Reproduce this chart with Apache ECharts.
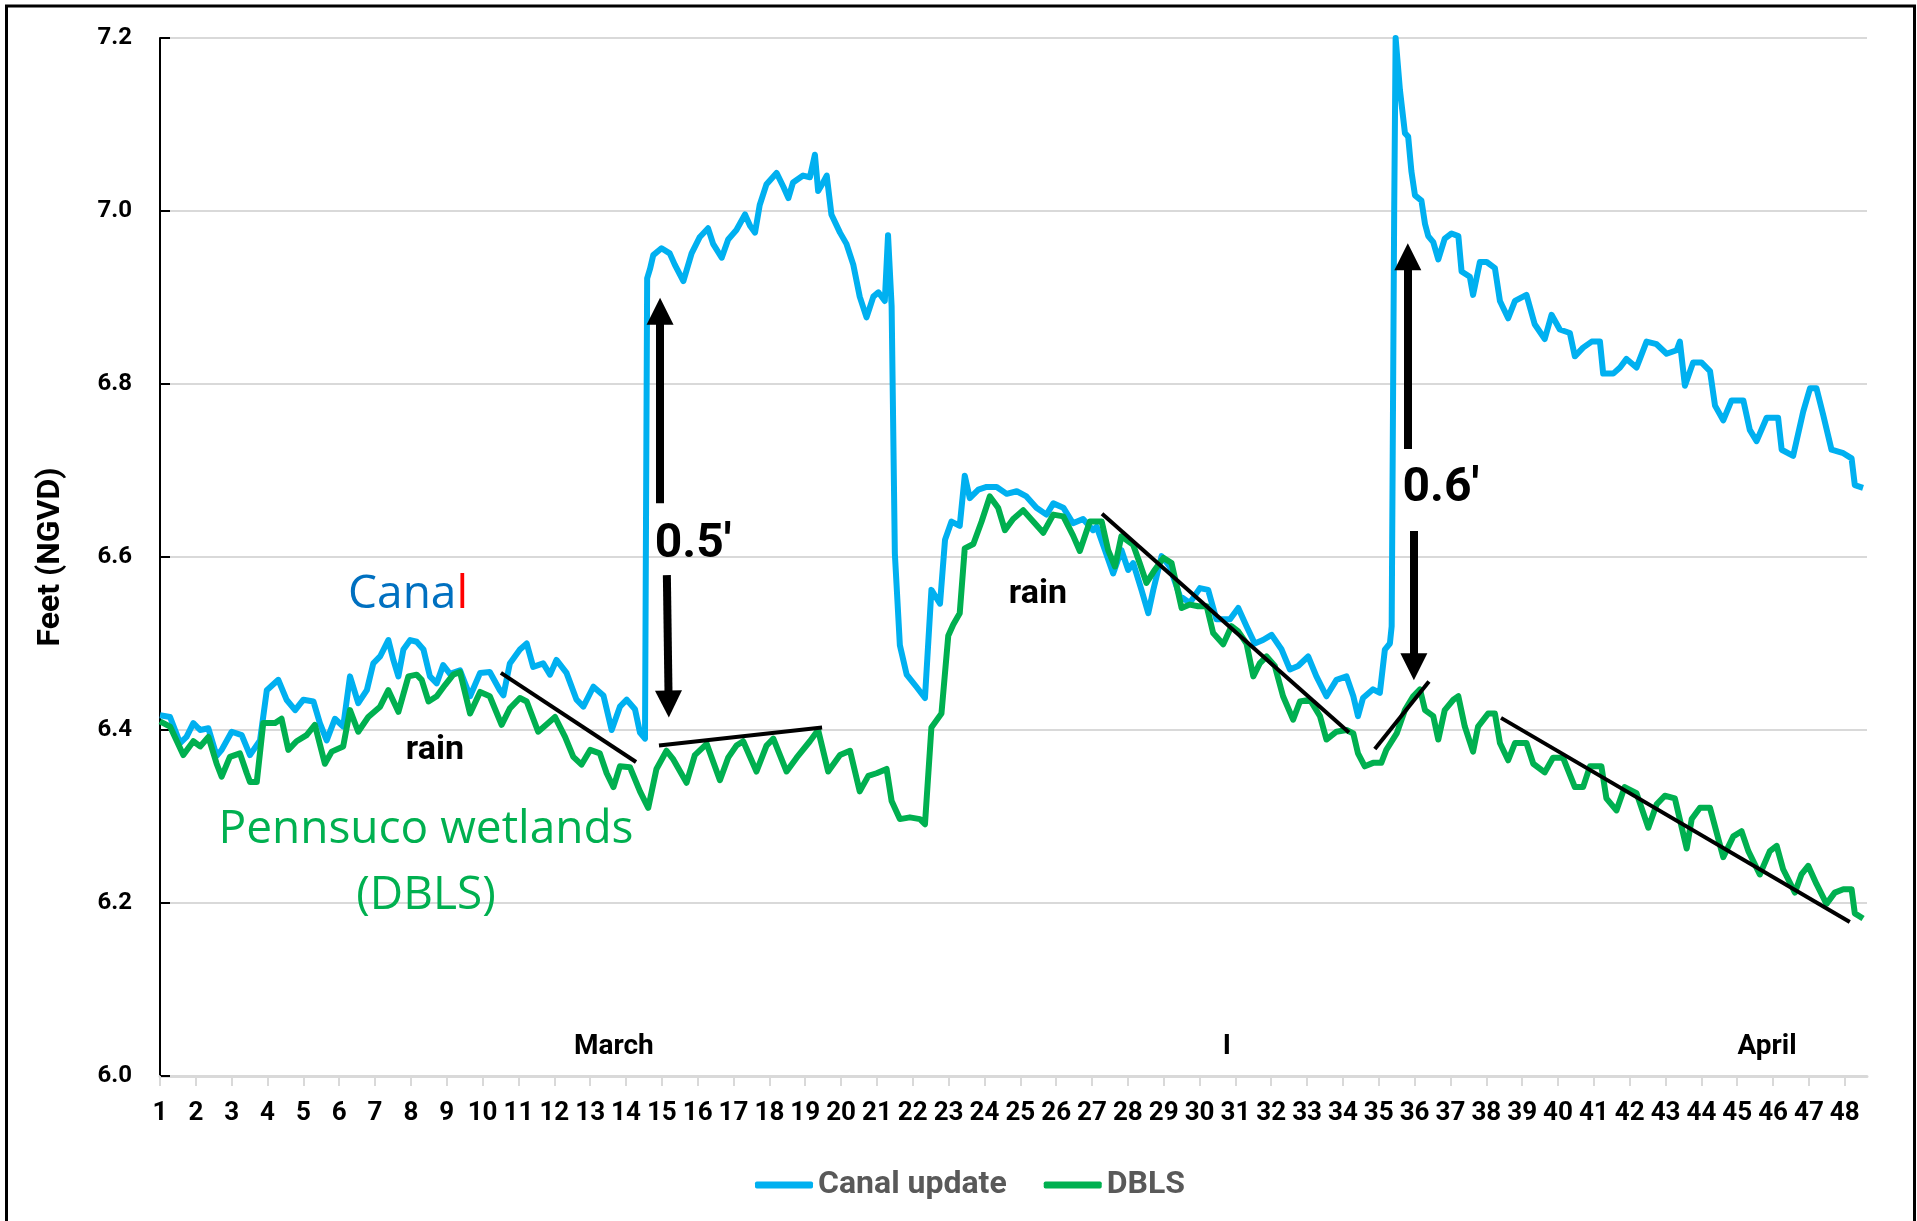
<!DOCTYPE html>
<html><head><meta charset="utf-8">
<script src="https://cdn.jsdelivr.net/npm/echarts@6/dist/echarts.min.js"></script>
<style>html,body{margin:0;padding:0;background:#fff}#c{width:1917px;height:1221px}</style>
</head><body><div id="c"></div>
<script>
const xTickLabels = [1,2,3,4,5,6,7,8,9,10,11,12,13,14,15,16,17,18,19,20,21,22,23,24,25,26,27,28,29,30,31,32,33,34,35,36,37,38,39,40,41,42,43,44,45,46,47,48];
const seriesNames = ['Canal update', 'DBLS'];

const canalUpdate = [
[1.00,6.417],[1.28,6.415],[1.56,6.385],[1.74,6.392],[1.93,6.408],[2.12,6.400],[2.35,6.402],[2.58,6.370],[2.72,6.377],[3.00,6.398],
[3.28,6.394],[3.51,6.371],[3.79,6.388],[3.98,6.446],[4.30,6.458],[4.53,6.435],[4.77,6.423],[5.00,6.435],[5.28,6.433],[5.46,6.408],
[5.65,6.388],[5.88,6.413],[6.11,6.404],[6.30,6.462],[6.53,6.431],[6.77,6.446],[6.95,6.477],[7.14,6.485],[7.37,6.504],[7.51,6.481],
[7.65,6.462],[7.79,6.493],[7.98,6.504],[8.16,6.502],[8.35,6.493],[8.53,6.462],[8.72,6.454],[8.90,6.475],[9.09,6.465],[9.37,6.469],
[9.65,6.439],[9.93,6.466],[10.20,6.467],[10.48,6.446],[10.58,6.440],[10.76,6.477],[11.04,6.493],[11.23,6.500],[11.41,6.473],[11.69,6.477],
[11.88,6.464],[12.06,6.481],[12.34,6.466],[12.62,6.435],[12.81,6.427],[13.09,6.450],[13.37,6.440],[13.60,6.400],[13.83,6.427],[14.02,6.435],
[14.25,6.424],[14.39,6.397],[14.53,6.390],[14.59,6.922],[14.67,6.933],[14.76,6.949],[14.99,6.957],[15.22,6.951],[15.36,6.938],[15.60,6.919],
[15.83,6.951],[16.06,6.970],[16.29,6.980],[16.43,6.962],[16.67,6.946],[16.85,6.967],[17.08,6.978],[17.32,6.996],[17.46,6.983],[17.60,6.975],
[17.73,7.007],[17.92,7.031],[18.20,7.044],[18.39,7.028],[18.53,7.015],[18.66,7.033],[18.94,7.041],[19.13,7.039],[19.27,7.065],[19.36,7.023],
[19.50,7.033],[19.60,7.041],[19.73,6.996],[19.97,6.975],[20.15,6.962],[20.34,6.938],[20.52,6.901],[20.71,6.877],[20.90,6.901],[21.04,6.906],
[21.22,6.896],[21.31,6.972],[21.41,6.890],[21.50,6.604],[21.64,6.498],[21.83,6.464],[22.10,6.450],[22.34,6.437],[22.52,6.562],[22.76,6.546],
[22.90,6.620],[23.08,6.641],[23.31,6.636],[23.45,6.694],[23.59,6.668],[23.83,6.678],[24.06,6.681],[24.34,6.681],[24.62,6.673],[24.90,6.676],
[25.17,6.670],[25.45,6.657],[25.73,6.649],[25.92,6.662],[26.20,6.657],[26.47,6.639],[26.75,6.644],[27.03,6.631],[27.13,6.635],[27.36,6.608],
[27.59,6.581],[27.82,6.608],[28.01,6.585],[28.15,6.593],[28.38,6.562],[28.57,6.535],[28.71,6.562],[28.94,6.601],[29.17,6.589],[29.45,6.555],
[29.73,6.547],[30.01,6.564],[30.24,6.562],[30.47,6.528],[30.85,6.528],[31.08,6.541],[31.31,6.520],[31.54,6.500],[31.77,6.504],[32.01,6.510],
[32.29,6.493],[32.52,6.470],[32.75,6.474],[33.03,6.485],[33.26,6.462],[33.54,6.439],[33.82,6.458],[34.10,6.462],[34.29,6.439],[34.42,6.416],
[34.56,6.437],[34.84,6.447],[35.03,6.443],[35.17,6.493],[35.31,6.500],[35.36,6.520],[35.43,7.000],[35.47,7.200],[35.59,7.140],[35.73,7.090],
[35.82,7.086],[35.91,7.046],[36.01,7.018],[36.19,7.012],[36.29,6.985],[36.38,6.971],[36.52,6.964],[36.66,6.944],[36.84,6.968],[37.03,6.974],
[37.22,6.971],[37.31,6.930],[37.54,6.924],[37.63,6.903],[37.82,6.941],[38.01,6.941],[38.24,6.934],[38.38,6.896],[38.61,6.876],[38.80,6.896],
[39.12,6.903],[39.35,6.869],[39.63,6.852],[39.82,6.880],[40.05,6.863],[40.33,6.859],[40.47,6.832],[40.70,6.842],[40.94,6.849],[41.17,6.849],
[41.26,6.812],[41.54,6.812],[41.73,6.819],[41.91,6.829],[42.19,6.819],[42.47,6.849],[42.75,6.846],[43.03,6.835],[43.31,6.839],[43.40,6.849],
[43.54,6.798],[43.77,6.825],[44.00,6.825],[44.24,6.815],[44.38,6.775],[44.61,6.758],[44.84,6.781],[45.17,6.781],[45.35,6.747],[45.54,6.734],
[45.82,6.761],[46.14,6.761],[46.24,6.724],[46.56,6.717],[46.84,6.768],[47.03,6.795],[47.21,6.795],[47.40,6.764],[47.63,6.724],[47.96,6.720],
[48.19,6.714],[48.28,6.683],[48.51,6.680]
];

const dbls = [
[1.00,6.410],[1.28,6.404],[1.65,6.371],[1.93,6.387],[2.12,6.381],[2.35,6.392],[2.58,6.361],[2.72,6.346],[2.95,6.369],[3.23,6.373],
[3.42,6.350],[3.51,6.340],[3.70,6.340],[3.88,6.408],[4.21,6.408],[4.39,6.413],[4.58,6.377],[4.81,6.387],[5.09,6.394],[5.32,6.406],
[5.60,6.361],[5.79,6.375],[6.11,6.381],[6.30,6.423],[6.53,6.398],[6.81,6.415],[7.14,6.427],[7.37,6.446],[7.65,6.421],[7.93,6.462],
[8.16,6.464],[8.30,6.458],[8.49,6.433],[8.72,6.439],[8.95,6.452],[9.18,6.464],[9.37,6.467],[9.65,6.419],[9.93,6.444],[10.20,6.439],
[10.53,6.406],[10.76,6.425],[11.04,6.437],[11.23,6.433],[11.55,6.398],[11.83,6.408],[12.02,6.415],[12.30,6.392],[12.53,6.369],[12.76,6.360],
[13.00,6.377],[13.27,6.373],[13.46,6.350],[13.65,6.334],[13.83,6.358],[14.11,6.357],[14.39,6.329],[14.62,6.310],[14.85,6.355],[15.13,6.376],
[15.32,6.366],[15.69,6.339],[15.92,6.371],[16.25,6.384],[16.62,6.342],[16.85,6.368],[17.08,6.382],[17.27,6.387],[17.64,6.352],[17.92,6.382],
[18.11,6.390],[18.48,6.352],[18.76,6.368],[19.13,6.387],[19.36,6.400],[19.64,6.352],[19.97,6.371],[20.25,6.376],[20.52,6.329],[20.76,6.347],
[20.99,6.350],[21.27,6.355],[21.41,6.318],[21.64,6.297],[21.92,6.299],[22.20,6.297],[22.34,6.291],[22.52,6.403],[22.80,6.419],[22.99,6.509],
[23.13,6.522],[23.31,6.535],[23.45,6.610],[23.69,6.615],[23.92,6.641],[24.15,6.670],[24.38,6.657],[24.57,6.631],[24.80,6.644],[25.08,6.654],
[25.36,6.641],[25.64,6.628],[25.92,6.649],[26.20,6.647],[26.47,6.625],[26.66,6.607],[26.94,6.641],[27.27,6.641],[27.45,6.608],[27.64,6.589],
[27.82,6.624],[28.15,6.614],[28.33,6.593],[28.52,6.570],[28.75,6.585],[28.99,6.599],[29.22,6.593],[29.50,6.541],[29.73,6.545],[29.96,6.543],
[30.20,6.543],[30.38,6.512],[30.66,6.499],[30.89,6.520],[31.08,6.514],[31.31,6.500],[31.50,6.462],[31.68,6.477],[31.87,6.485],[32.10,6.474],
[32.33,6.439],[32.61,6.412],[32.80,6.433],[33.08,6.435],[33.36,6.416],[33.54,6.389],[33.82,6.398],[34.10,6.400],[34.29,6.396],[34.42,6.373],
[34.61,6.358],[34.84,6.362],[35.07,6.362],[35.21,6.377],[35.50,6.396],[35.73,6.423],[35.96,6.439],[36.15,6.447],[36.29,6.423],[36.52,6.416],
[36.66,6.389],[36.84,6.423],[37.08,6.435],[37.22,6.439],[37.40,6.404],[37.63,6.375],[37.77,6.404],[38.05,6.419],[38.24,6.419],[38.38,6.385],
[38.61,6.365],[38.80,6.385],[39.12,6.385],[39.31,6.361],[39.63,6.351],[39.86,6.368],[40.14,6.368],[40.47,6.334],[40.70,6.334],[40.89,6.358],
[41.21,6.358],[41.35,6.321],[41.63,6.307],[41.86,6.334],[42.19,6.327],[42.52,6.287],[42.75,6.314],[42.98,6.324],[43.26,6.321],[43.59,6.263],
[43.73,6.297],[43.96,6.310],[44.24,6.310],[44.61,6.253],[44.89,6.277],[45.12,6.283],[45.31,6.260],[45.63,6.233],[45.91,6.260],[46.10,6.266],
[46.28,6.239],[46.61,6.212],[46.79,6.233],[46.98,6.243],[47.21,6.222],[47.49,6.199],[47.72,6.212],[47.96,6.216],[48.19,6.216],[48.28,6.188],
[48.51,6.182]
];

// annotation lines (data coordinates)
const trendLines = [
[[10.51,6.466],[14.28,6.363]],
[[14.92,6.382],[19.47,6.403]],
[[27.28,6.650],[34.17,6.397]],
[[34.89,6.378],[36.40,6.456]],
[[38.41,6.414],[48.14,6.178]]
];
const arrows = [
[[14.95,6.662],[14.95,6.884]],
[[15.14,6.579],[15.19,6.430]],
[[35.81,6.725],[35.81,6.947]],
[[35.98,6.630],[35.98,6.473]]
];
const notes = [
{text:'{b|Cana}{r|l}', at:[7.92,6.556], kind:'canal'},
{text:'Pennsuco wetlands\n(DBLS)', at:[8.42,6.246], kind:'wet'},
{text:'rain', at:[8.67,6.376], kind:'rain'},
{text:'rain', at:[25.49,6.557], kind:'rain'},
{text:"0.5'", at:[15.87,6.614], kind:'delta'},
{text:"0.6'", at:[36.73,6.679], kind:'delta'}
];
const monthLabels = [
{text:'March', at:[13.66,6.033]},
{text:'I', at:[30.76,6.033]},
{text:'April', at:[45.83,6.033]}
];

const chart = echarts.init(document.getElementById('c'), null, {renderer:'canvas'});

const markLineData = [];
trendLines.forEach(l => markLineData.push([
  {coord:l[0], symbol:'none', lineStyle:{color:'#000', width:4, type:'solid'}},
  {coord:l[1], symbol:'none'}
]));
arrows.forEach(a => markLineData.push([
  {coord:a[0], symbol:'none', lineStyle:{color:'#000', width:8, type:'solid', cap:'butt'}},
  {coord:a[1], symbol:'triangle', symbolSize:[27,27]}
]));

const option = {
  animation:false,
  backgroundColor:'#fff',
  grid:{left:160, right:50, top:38, bottom:145, containLabel:false},
  xAxis:{
    type:'value', min:1, max:48.62, interval:1,
    axisLine:{show:true, onZero:false, lineStyle:{color:'#D9D9D9', width:3}},
    axisTick:{show:true, inside:false, length:10, lineStyle:{color:'#D9D9D9', width:2}, customValues:xTickLabels},
    axisLabel:{show:true, customValues:xTickLabels, margin:24, color:'#000', fontWeight:'bold', fontSize:26,
      fontFamily:'Roboto, sans-serif', formatter:v=>String(v)},
    splitLine:{show:false}
  },
  yAxis:{
    type:'value', min:6.0, max:7.2, interval:0.2,
    name:'Feet (NGVD)', nameLocation:'middle', nameGap:93, nameRotate:90,
    nameTextStyle:{fontSize:32, fontWeight:'bold', color:'#000', fontFamily:'Roboto'},
    axisLine:{show:true, lineStyle:{color:'#000', width:2}},
    axisTick:{show:true, inside:true, length:10, lineStyle:{color:'#000', width:2}},
    axisLabel:{margin:28, color:'#000', fontWeight:'bold', fontSize:24, fontFamily:'Roboto', formatter:v=>v.toFixed(1)},
    splitLine:{show:true, lineStyle:{color:'#D9D9D9', width:2}}
  },
  legend:{
    data:seriesNames, left:750, top:1164, itemWidth:58, itemHeight:7, itemGap:37, icon:'roundRect',
    textStyle:{color:'#595959', fontWeight:'bold', fontSize:32, fontFamily:'Roboto'}
  },
  series:[
    {name:seriesNames[0], type:'line', data:canalUpdate, showSymbol:false, symbol:'none',
     lineStyle:{color:'#00B0F0', width:6, join:'round'}, itemStyle:{color:'#00B0F0'}, z:2},
    {name:seriesNames[1], type:'line', data:dbls, showSymbol:false, symbol:'none',
     lineStyle:{color:'#00B050', width:6, join:'round'}, itemStyle:{color:'#00B050'}, z:3,
     markLine:{silent:true, animation:false, symbol:['none','none'], label:{show:false},
       emphasis:{disabled:true}, data:markLineData}}
  ]
};
chart.setOption(option);

function px(p){ return chart.convertToPixel({gridIndex:0}, p); }
const graphics = [
  {type:'rect', shape:{x:6.5, y:6, width:1908, height:1240}, style:{fill:'none', stroke:'#000', lineWidth:3}, z:100}
];
notes.forEach(n => {
  const p = px(n.at);
  let style = {text:n.text, x:p[0], y:p[1], align:'center', verticalAlign:'middle'};
  if (n.kind === 'canal') {
    style.rich = {b:{fill:'#0070C0', fontSize:46, fontFamily:'"Open Sans"'}, r:{fill:'#FF0000', fontSize:46, fontFamily:'"Open Sans"'}};
    style.fontSize = 46; style.fontFamily = '"Open Sans"';
  } else if (n.kind === 'wet') {
    style.fill = '#00B050'; style.fontSize = 46; style.fontFamily = '"Open Sans"'; style.lineHeight = 66;
  } else if (n.kind === 'rain') {
    style.fill = '#000'; style.fontSize = 34; style.fontWeight = 'bold'; style.fontFamily = 'Roboto';
  } else {
    style.fill = '#000'; style.fontSize = 48; style.fontWeight = 'bold'; style.fontFamily = 'Roboto';
  }
  graphics.push({type:'text', style:style, z:50});
});
monthLabels.forEach(m => {
  const p = px(m.at);
  graphics.push({type:'text', style:{text:m.text, x:p[0], y:p[1], align:'center', verticalAlign:'middle',
    fill:'#000', fontSize:28, fontWeight:'bold', fontFamily:'Roboto'}, z:50});
});
chart.setOption({graphic:graphics});
</script>
</body></html>
